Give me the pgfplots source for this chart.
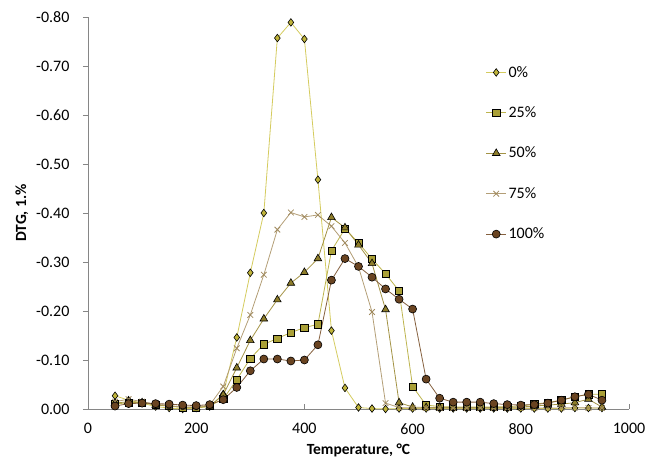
\documentclass[border=0pt]{standalone}
\usepackage{pgfplots}
\pgfplotsset{compat=1.18}
\usepackage{fontspec}
\setmainfont{Carlito}
\definecolor{axgray}{HTML}{868686}
\definecolor{c0f}{HTML}{C0B43A}
\definecolor{c0l}{HTML}{D4CB5E}
\definecolor{c1f}{HTML}{AAA037}
\definecolor{c1l}{HTML}{BDB44E}
\definecolor{c2f}{HTML}{8E7D2A}
\definecolor{c2l}{HTML}{A39345}
\definecolor{c3f}{HTML}{A08A5E}
\definecolor{c3l}{HTML}{B39E76}
\definecolor{c4f}{HTML}{6A4421}
\definecolor{c4l}{HTML}{85603E}
\begin{document}
\begin{tikzpicture}[x=1pt,y=1pt]
\begin{axis}[
  name=ax,
  at={(0,0)}, anchor=south west,
  scale only axis, width=541pt, height=392pt,
  xmin=0, xmax=1000, ymin=-0.8, ymax=0,
  y dir=reverse,
  axis x line=bottom, axis y line=left,
  axis line style={axgray, line width=0.8pt, -},
  xtick={0,200,...,1000},
  ytick={-0.8,-0.7,...,0},
  tick style={axgray, line width=0.8pt},
  major tick length=5pt,
  xtick align=inside, ytick align=outside,
  /pgf/number format/assume math mode=true,
  yticklabel style={xshift=-10pt, /pgf/number format/.cd, fixed, fixed zerofill, precision=2},
  xticklabel style={yshift=-11pt, /pgf/number format/.cd, fixed, 1000 sep={}},
  ticklabel style={font=\fontsize{16}{18}\selectfont, text=black},
  xlabel={\textbf{Temperature, °C}},
  ylabel={\textbf{DTG, 1.\%}},
  label style={font=\fontsize{15.5}{18}\selectfont},
  xlabel style={yshift=-2pt},
  ylabel style={yshift=1pt},
  legend style={draw=none, fill=none, at={(0.735,0.88)}, anchor=north west,
    font=\fontsize{16}{18}\selectfont, row sep=24pt, inner sep=0pt,
    legend cell align=left},
  legend image code/.code={\draw[#1, mark repeat=2, mark phase=2] plot coordinates {(0pt,0pt) (10pt,0pt) (20pt,0pt)};},
  clip=false,
]
\addplot[c0l, line width=0.8pt, mark=diamond*, mark size=3.8pt, mark options={fill=c0f, draw=black, line width=0.6pt}] coordinates {
(50,-0.027)(75,-0.018)(100,-0.012)(125,-0.005)(150,-0.002)(175,0.000)(200,-0.002)(225,-0.005)(250,-0.030)(275,-0.146)(300,-0.278)(325,-0.400)(350,-0.757)(375,-0.789)(400,-0.755)(425,-0.468)(450,-0.160)(475,-0.043)(500,-0.003)(525,-0.001)(550,0.000)(575,-0.001)(600,-0.001)(625,-0.001)(650,-0.001)(675,-0.001)(700,-0.001)(725,-0.001)(750,-0.001)(775,-0.001)(800,-0.001)(825,-0.001)(850,-0.001)(875,-0.001)(900,-0.002)(925,-0.002)(950,-0.002)};
\addlegendentry{0\%}
\addplot[c1l, line width=0.8pt, mark=square*, mark size=3.6pt, mark options={fill=c1f, draw=black, line width=0.6pt}] coordinates {
(50,-0.010)(75,-0.013)(100,-0.013)(125,-0.009)(150,-0.006)(175,-0.003)(200,-0.002)(225,-0.007)(250,-0.020)(275,-0.060)(300,-0.103)(325,-0.132)(350,-0.144)(375,-0.156)(400,-0.166)(425,-0.173)(450,-0.323)(475,-0.368)(500,-0.339)(525,-0.306)(550,-0.276)(575,-0.241)(600,-0.046)(625,-0.008)(650,-0.005)(675,-0.004)(700,-0.004)(725,-0.004)(750,-0.004)(775,-0.005)(800,-0.006)(825,-0.010)(850,-0.013)(875,-0.018)(900,-0.025)(925,-0.030)(950,-0.030)};
\addlegendentry{25\%}
\addplot[c2l, line width=0.8pt, mark=triangle*, mark size=4.4pt, mark options={fill=c2f, draw=black, line width=0.6pt}] coordinates {
(50,-0.012)(75,-0.015)(100,-0.013)(125,-0.008)(150,-0.006)(175,-0.004)(200,-0.003)(225,-0.006)(250,-0.029)(275,-0.084)(300,-0.140)(325,-0.184)(350,-0.223)(375,-0.257)(400,-0.279)(425,-0.307)(450,-0.391)(475,-0.370)(500,-0.335)(525,-0.297)(550,-0.203)(575,-0.013)(600,-0.004)(625,-0.003)(650,-0.003)(675,-0.003)(700,-0.003)(725,-0.003)(750,-0.003)(775,-0.003)(800,-0.004)(825,-0.006)(850,-0.008)(875,-0.010)(900,-0.013)(925,-0.020)(950,-0.004)};
\addlegendentry{50\%}
\addplot[c3l, line width=0.8pt, mark=x, mark size=4pt, mark options={draw=c3f, line width=0.8pt}] coordinates {
(50,-0.015)(75,-0.020)(100,-0.015)(125,-0.010)(150,-0.007)(175,-0.004)(200,-0.004)(225,-0.008)(250,-0.046)(275,-0.124)(300,-0.192)(325,-0.274)(350,-0.366)(375,-0.401)(400,-0.392)(425,-0.396)(450,-0.373)(475,-0.339)(500,-0.290)(525,-0.198)(550,-0.012)(575,-0.003)(600,-0.002)(625,-0.002)(650,-0.002)(675,-0.002)(700,-0.002)(725,-0.002)(750,-0.002)(775,-0.002)(800,-0.002)(825,-0.002)(850,-0.002)(875,-0.002)(900,-0.003)(925,-0.002)(950,-0.002)};
\addlegendentry{75\%}
\addplot[c4l, line width=0.8pt, mark=*, mark size=4pt, mark options={fill=c4f, draw=black, line width=0.6pt}] coordinates {
(50,-0.006)(75,-0.011)(100,-0.012)(125,-0.011)(150,-0.010)(175,-0.008)(200,-0.007)(225,-0.009)(250,-0.019)(275,-0.044)(300,-0.078)(325,-0.102)(350,-0.102)(375,-0.098)(400,-0.100)(425,-0.131)(450,-0.263)(475,-0.307)(500,-0.291)(525,-0.269)(550,-0.245)(575,-0.224)(600,-0.204)(625,-0.061)(650,-0.022)(675,-0.014)(700,-0.014)(725,-0.014)(750,-0.011)(775,-0.009)(800,-0.008)(825,-0.009)(850,-0.012)(875,-0.018)(900,-0.025)(925,-0.030)(950,-0.018)};
\addlegendentry{100\%}
\end{axis}
\pgfresetboundingbox
\path[use as bounding box] (-88,-53) rectangle (569,409);
\end{tikzpicture}
\end{document}
